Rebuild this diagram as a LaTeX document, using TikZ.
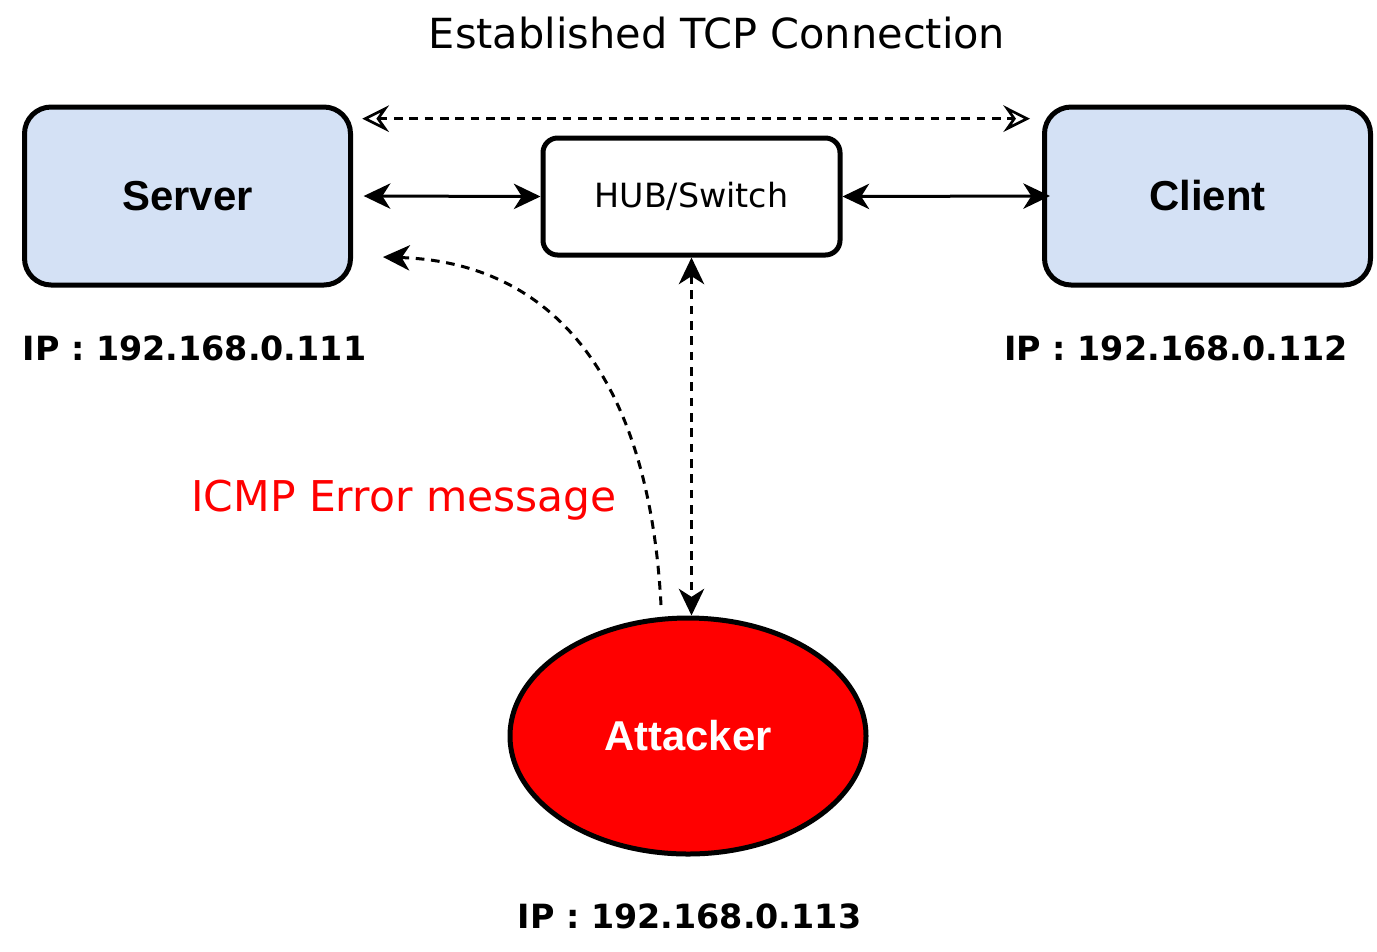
\documentclass[tikz,border=0pt]{standalone}
\usepackage{fontspec}
\setmainfont{DejaVu Sans}
\newfontfamily\arialfont{Liberation Sans}
\usetikzlibrary{arrows.meta,shapes.geometric}
\definecolor{boxblue}{HTML}{D4E1F5}
\definecolor{attred}{HTML}{FF0000}
\tikzset{
  hostbox/.style={draw, line width=3.75pt, rounded corners=20pt, fill=boxblue,
    minimum width=244.5pt, minimum height=133.5pt, inner sep=0pt,
    font=\arialfont\bfseries\fontsize{31.4pt}{36pt}\selectfont},
  hubbox/.style={draw, line width=3.75pt, rounded corners=11pt, fill=white,
    minimum width=222.75pt, minimum height=87.75pt, inner sep=0pt,
    font=\fontsize{25pt}{30pt}\selectfont},
  attbox/.style={ellipse, draw, line width=3.75pt, fill=attred, text=white,
    minimum width=267pt, minimum height=177pt, inner sep=0pt,
    font=\arialfont\bfseries\fontsize{31.3pt}{36pt}\selectfont},
  iplabel/.style={font=\bfseries\fontsize{25pt}{30pt}\selectfont, inner sep=0pt},
  stip/.tip={Stealth[length=20pt,width=19pt,inset=6pt]},
  otip/.tip={Stealth[open,length=20pt,width=20pt,inset=7pt,line width=2pt]},
  conn/.style={line width=2.25pt},
  dconn/.style={line width=2.25pt, dash pattern=on 6.5pt off 5pt},
}
\begin{document}
\begin{tikzpicture}[x=0.75pt,y=-0.75pt]
\useasboundingbox (0,0) rectangle (1377,951);
\node[font=\fontsize{31.1pt}{37pt}\selectfont, inner sep=0pt] (title) at (717,33) {Established TCP Connection};
\node[hostbox] (server) at (187.5,196) {Server};
\node[hostbox] (client) at (1207.5,196) {Client};
\node[hubbox] (hub) at (691.5,196.5) {HUB/Switch};
\node[attbox] (att) at (688,736) {Attacker};
\node[iplabel] (ip1) at (194.5,348) {IP : 192.168.0.111};
\node[iplabel] (ip2) at (1176,348) {IP : 192.168.0.112};
\node[iplabel] (ip3) at (689.5,916) {IP : 192.168.0.113};
\node[text=attred, font=\fontsize{31.8pt}{37pt}\selectfont, inner sep=0pt] (icmp) at (404,500) {ICMP Error message};
% connection coordinates
\coordinate (sR) at ([xshift=8pt]server.east);
\coordinate (sTop) at ([xshift=7pt,yshift=58pt]server.east);
\coordinate (cTop) at ([xshift=-9pt,yshift=58pt]client.west);
\coordinate (cL) at ([xshift=6pt]client.west);
\coordinate (aTop) at (att.north -| hub.south);
\coordinate (curveStart) at (661,605);
\coordinate (curveEnd) at (383,257);
\draw[dconn, {otip}-{otip}] (sTop) -- (cTop);
\draw[conn, {stip}-{stip}] (sR) -- (hub.west);
\draw[conn, {stip}-{stip}] (hub.east) -- (cL);
\draw[dconn, {stip}-{stip}] (hub.south) -- (aTop);
\draw[dconn, -{stip}] (curveStart) .. controls (648,360) and (540,262) .. (curveEnd);
\end{tikzpicture}
\end{document}
